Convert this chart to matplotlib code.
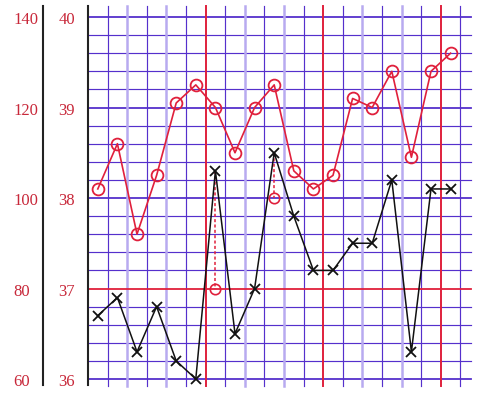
import matplotlib.pyplot as plt
import numpy as np

# 脉搏（红圈，左侧 60-140）
pulse = [102, 112, 92, 105, 121, 125, 120, 110, 120, 125,
         106, 102, 105, 122, 120, 128, 109, 128, 132]
# 体温（黑叉，36-40）
temp = [36.7, 36.9, 36.3, 36.8, 36.2, 36.0, 38.3, 36.5, 37.0, 38.5,
        37.8, 37.2, 37.2, 37.5, 37.5, 38.2, 36.3, 38.1, 38.1]
# 物理降温：第几个点，降温后的体温
cool_idx = [6, 9]
cool_temp = [37.0, 38.0]

pulse_ticks = [140, 120, 100, 80, 60]
temp_ticks = [40, 39, 38, 37, 36]

RED = '#e0203c'
LABEL_RED = '#c8283a'
DARK = '#5530cc'
LIGHT = '#b8aaf0'

fig = plt.figure(figsize=(4.81, 3.93), dpi=100)
ax = fig.add_axes([0, 0, 1, 1])
ax.axis('off')

# 像素 -> 数据：每格 19.6 px，每度 90.5 px
cell, deg = 19.6, 90.5
ax.set_xlim(-88 / cell, (481 - 88) / cell)
ax.set_ylim(40 - (393 - 17) / deg, 40 + 17 / deg)

y_top, y_bot = 40 + 11 / deg, 36 - 7 / deg
x_end = (471 - 88) / cell

# 横线：每 0.2 度一条
for i in range(21):
    y = 36 + i * 0.2
    if i == 5:
        continue
    lw = 1.3 if i % 5 == 0 else 0.85
    ax.plot([0, x_end], [y, y], color=DARK, lw=lw, zorder=1)
ax.plot([0, x_end], [37, 37], color=RED, lw=1.3, zorder=1.5)

# 竖线
for k in range(1, 20):
    if k % 6 == 0:
        ax.plot([k, k], [y_bot, y_top], color=RED, lw=1.4, zorder=1.6)
    elif k % 2 == 1:
        ax.plot([k, k], [y_bot, y_top], color=DARK, lw=0.85, zorder=1.2)
    else:
        ax.plot([k, k], [y_bot, y_top], color=LIGHT, lw=1.8, zorder=1.1)

# 两条黑色坐标轴线
for xa in [0, (43 - 88) / cell]:
    ax.plot([xa, xa], [36 - 6 / deg, y_top], color='#222222', lw=1.5, zorder=3)

# 刻度文字
for p, t in zip(pulse_ticks, temp_ticks):
    ax.text((13 - 88) / cell, t - 0.035, str(p), color=LABEL_RED, fontsize=12,
            family='Liberation Serif', ha='left', va='center')
    ax.text((66.5 - 88) / cell, t - 0.035, str(t), color=LABEL_RED, fontsize=12,
            family='Liberation Serif', ha='center', va='center')

x = np.arange(len(temp)) + 0.5

# 体温曲线
ax.plot(x, temp, color='#111111', lw=1.1, marker='x', ms=7, mew=1.3, zorder=5)

# 物理降温
for i, ct in zip(cool_idx, cool_temp):
    ax.plot([x[i], x[i]], [temp[i], ct], color=RED, lw=1.1, ls=(0, (2, 1.5)), zorder=4)
    ax.plot(x[i], ct, marker='o', ms=7.5, mfc='none', mec=RED, mew=1.2, zorder=6)

# 脉搏曲线（用第二个 y 轴，60-140 对应 36-40）
ax2 = ax.twinx()
ax2.axis('off')
lo, hi = ax.get_ylim()
ax2.set_ylim(60 + (lo - 36) * 20, 60 + (hi - 36) * 20)
ax2.plot(x, pulse, color=RED, lw=1.2, marker='o', ms=8.5, mfc='none', mec=RED, mew=1.3, zorder=5)

fig.savefig('out.png', dpi=100)
